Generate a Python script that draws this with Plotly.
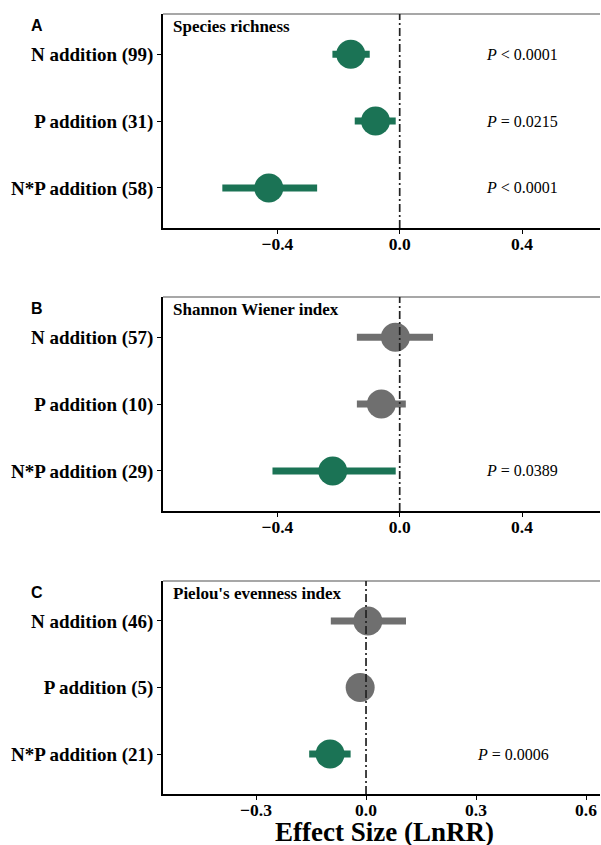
import plotly.graph_objects as go

# ---------------- data ----------------
treatments = ["N addition", "P addition", "N*P addition"]

panel_letters = ["A", "B", "C"]
panel_titles = ["Species richness", "Shannon Wiener index", "Pielou's evenness index"]

n_A = [99, 31, 58]
est_A = [-0.160, -0.079, -0.428]
lo_A = [-0.220, -0.147, -0.580]
hi_A = [-0.098, -0.013, -0.270]
sig_A = [True, True, True]
p_A = ["P < 0.0001", "P = 0.0215", "P < 0.0001"]

n_B = [57, 10, 29]
est_B = [-0.014, -0.060, -0.219]
lo_B = [-0.140, -0.140, -0.416]
hi_B = [0.109, 0.020, -0.013]
sig_B = [False, False, True]
p_B = [None, None, "P = 0.0389"]

n_C = [46, 5, 21]
est_C = [0.005, -0.016, -0.098]
lo_C = [-0.096, -0.030, -0.155]
hi_C = [0.109, -0.002, -0.042]
sig_C = [False, False, True]
p_C = [None, None, "P = 0.0006"]

xticks_AB = [-0.4, 0.0, 0.4]
xticks_C = [-0.3, 0.0, 0.3, 0.6]
xrange_AB = [-0.774, 0.655]
xrange_C = [-0.5536, 0.638]

x_title = "Effect Size (LnRR)"

# ---------------- styling ----------------
W, H = 601, 845
GREEN = "#1B7355"
GREY = "#6F6F6F"
SERIF = "Liberation Serif"
SANS = "Liberation Sans"

panels = [
    (n_A, est_A, lo_A, hi_A, sig_A, p_A, xticks_AB, xrange_AB, (14, 228)),
    (n_B, est_B, lo_B, hi_B, sig_B, p_B, xticks_AB, xrange_AB, (297, 511)),
    (n_C, est_C, lo_C, hi_C, sig_C, p_C, xticks_C, xrange_C, (581, 794)),
]

X0, X1 = 163, 600

fig = go.Figure()
layout = dict(
    width=W, height=H,
    margin=dict(l=0, r=0, t=0, b=0),
    paper_bgcolor="white", plot_bgcolor="white",
    showlegend=False,
)
shapes = []
annotations = []

for i, (ns, est, lo, hi, sig, pv, xt, xr, (ytop, ybot)) in enumerate(panels):
    k = "" if i == 0 else str(i + 1)
    xa, ya = "x" + k, "y" + k
    labels = [f"{t} ({n})" for t, n in zip(treatments, ns)]
    for j in range(3):
        col = GREEN if sig[j] else GREY
        fig.add_trace(go.Scatter(
            x=[est[j]], y=[labels[j]], mode="markers",
            marker=dict(size=29, color=col, line=dict(width=0)),
            error_x=dict(type="data", symmetric=False,
                         array=[hi[j] - est[j]], arrayminus=[est[j] - lo[j]],
                         width=0, thickness=7, color=col),
            xaxis=xa, yaxis=ya, hoverinfo="skip",
        ))
    dom_y = [1 - ybot / H, 1 - ytop / H]
    layout["xaxis" + k] = dict(
        domain=[X0 / W, X1 / W], anchor=ya, range=xr,
        tickvals=xt, tickformat=".1f",
        showline=True, linecolor="black", linewidth=1.5,
        ticks="outside", ticklen=4, tickwidth=1.2, tickcolor="black",
        ticklabelstandoff=-5,
        showgrid=False, zeroline=False,
        tickfont=dict(family=SERIF, size=17.5, color="black", weight="bold"),
    )
    layout["yaxis" + k] = dict(
        domain=dom_y, anchor=xa, type="category",
        categoryorder="array", categoryarray=labels[::-1],
        range=[-0.6, 2.6],
        showline=True, linecolor="black", linewidth=1.5,
        ticks="outside", ticklen=4, tickwidth=1.2, tickcolor="black",
        showgrid=False, zeroline=False,
        tickfont=dict(family=SERIF, size=19, color="black", weight="bold"),
    )
    # top border
    shapes.append(dict(type="line", xref=xa + " domain", yref=ya + " domain",
                       x0=0, x1=1, y0=1, y1=1,
                       line=dict(color="#8A8A8A", width=1.5)))
    # zero reference line
    shapes.append(dict(type="line", xref=xa, yref=ya + " domain",
                       x0=0, x1=0, y0=0, y1=1,
                       line=dict(color="#222222", width=1.7, dash="8px,3px,2px,3px")))
    # panel letter
    annotations.append(dict(text=panel_letters[i], xref="paper", yref="paper",
                            x=36.5 / W, y=1 - (ytop + 11.5) / H,
                            xanchor="center", yanchor="middle", showarrow=False,
                            font=dict(family=SANS, size=16, color="black", weight="bold")))
    # panel title
    annotations.append(dict(text=panel_titles[i], xref="paper", yref="paper",
                            x=171 / W, y=1 - (ytop + 12.5) / H,
                            xanchor="left", yanchor="middle", showarrow=False,
                            font=dict(family=SERIF, size=17, color="black", weight="bold")))
    # P-values
    for j in range(3):
        if pv[j]:
            txt = pv[j].replace("<", "&lt;")
            txt = "<i>P</i>" + txt[1:]
            annotations.append(dict(text=txt, xref=xa, yref=ya, x=0.4, y=labels[j],
                                    xanchor="center", yanchor="middle", showarrow=False,
                                    font=dict(family=SERIF, size=16, color="black")))

annotations.append(dict(text=x_title, xref="paper", yref="paper",
                        x=384.5 / W, y=1 - 831.5 / H, xanchor="center", yanchor="middle",
                        showarrow=False,
                        font=dict(family=SERIF, size=27, color="black", weight="bold")))

layout["shapes"] = shapes
layout["annotations"] = annotations
fig.update_layout(**layout)
fig.write_html("out.html", config={"displayModeBar": False},
               post_script="document.body.style.margin='0';document.body.style.overflow='hidden';")
